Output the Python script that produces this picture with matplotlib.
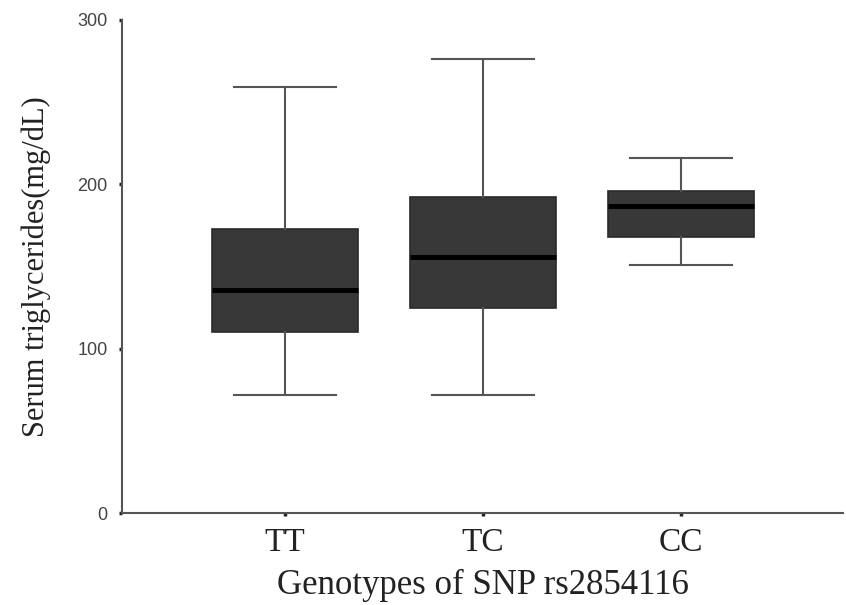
import matplotlib

matplotlib.use("Agg")

import matplotlib.pyplot as plt


# -------------------------------------------------------------------------
# Data
# -------------------------------------------------------------------------

genotypes = ["TT", "TC", "CC"]

whisker_low = [72, 72, 151]
q1 = [110, 125, 168]
median = [136, 156, 187]
q3 = [173, 192, 196]
whisker_high = [259, 276, 216]


# -------------------------------------------------------------------------
# Figure
# -------------------------------------------------------------------------

fig = plt.figure(figsize=(8.46, 6.05), dpi=100)
ax = fig.add_axes([0.1442, 0.152, 0.8523, 0.815])

stats = [
    {
        "label": g,
        "whislo": lo,
        "q1": a,
        "med": m,
        "q3": b,
        "whishi": hi,
    }
    for g, lo, a, m, b, hi in zip(
        genotypes, whisker_low, q1, median, q3, whisker_high
    )
]

ax.bxp(
    stats,
    positions=[1, 2, 3],
    widths=0.74,
    capwidths=0.515,
    showfliers=False,
    patch_artist=True,
    boxprops=dict(facecolor="#383838", edgecolor="#2a2a2a", linewidth=1.2),
    medianprops=dict(color="black", linewidth=3.5),
    whiskerprops=dict(color="#555555", linewidth=1.5),
    capprops=dict(color="#555555", linewidth=1.5),
)

ax.set_xlim(0.177, 3.82)
ax.set_ylim(0, 300)
ax.set_yticks([0, 100, 200, 300])

ax.spines["top"].set_visible(False)
ax.spines["right"].set_visible(False)
for side in ["left", "bottom"]:
    ax.spines[side].set_color("#555555")
    ax.spines[side].set_linewidth(1.5)

ax.tick_params(axis="both", direction="out", length=2.5, width=2.5,
               color="#222222")
ax.tick_params(axis="y", pad=8)
ax.tick_params(axis="x", pad=8)

for lab in ax.get_yticklabels():
    lab.set_fontfamily("Liberation Sans")
    lab.set_fontsize(13)
    lab.set_color("#444444")

ax.set_xticklabels(genotypes, fontfamily="Liberation Serif", fontsize=24,
                   color="#222222")

ax.set_xlabel("Genotypes of SNP rs2854116", fontfamily="Liberation Serif",
              fontsize=25, color="#222222", labelpad=8)
ax.set_ylabel("Serum triglycerides(mg/dL)", fontfamily="Liberation Serif",
              fontsize=22, color="#222222", labelpad=19)

fig.savefig("out.png", dpi=100)
plt.close(fig)
